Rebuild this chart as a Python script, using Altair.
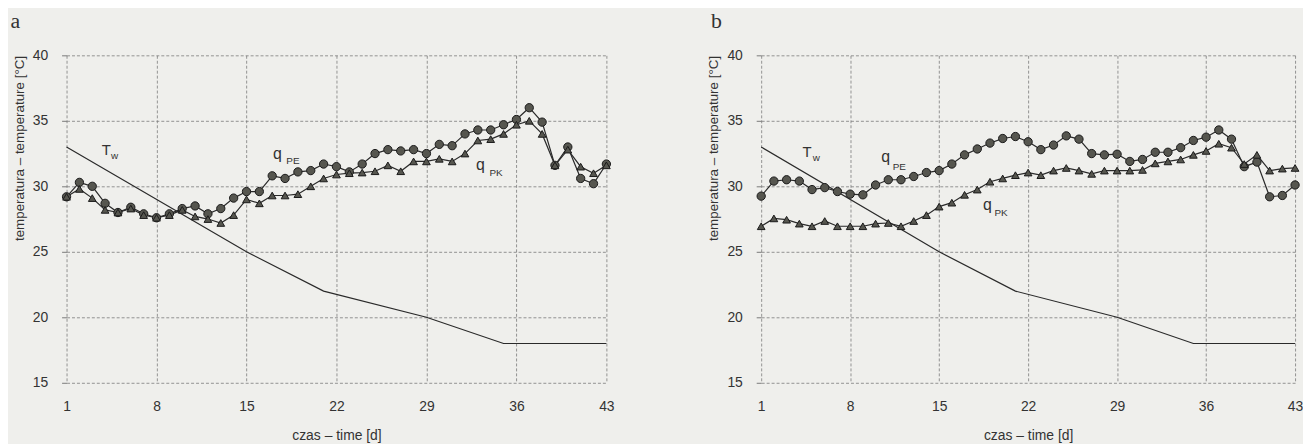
import altair as alt
import pandas as pd

days = list(range(1, 44))
tick_days = [1, 8, 15, 22, 29, 36, 43]
tick_temp = [15, 20, 25, 30, 35, 40]

a_pe = [29.2, 30.3, 30.0, 28.7, 28.0, 28.4, 27.9, 27.6, 27.9, 28.3, 28.5, 27.9, 28.3, 29.1,
        29.6, 29.6, 30.8, 30.6, 31.1, 31.2, 31.7, 31.5, 31.1, 31.7, 32.5, 32.8, 32.7, 32.8,
        32.5, 33.2, 33.1, 34.0, 34.3, 34.3, 34.7, 35.1, 36.0, 34.9, 31.6, 33.0, 30.6, 30.2, 31.7]
a_pk = [29.2, 29.8, 29.1, 28.2, 28.0, 28.3, 27.8, 27.6, 27.8, 28.2, 27.7, 27.5, 27.2, 27.8,
        29.0, 28.7, 29.3, 29.3, 29.4, 30.0, 30.6, 30.9, 31.0, 31.05, 31.15, 31.6, 31.15, 31.9,
        31.9, 32.1, 31.9, 32.5, 33.5, 33.6, 34.0, 34.7, 35.0, 34.0, 31.6, 32.8, 31.5, 31.0, 31.6]
b_pe = [29.25, 30.4, 30.5, 30.4, 29.75, 29.9, 29.6, 29.4, 29.35, 30.1, 30.5, 30.5, 30.75, 31.05,
        31.2, 31.7, 32.4, 32.85, 33.3, 33.65, 33.8, 33.4, 32.8, 33.15, 33.85, 33.6, 32.5, 32.4,
        32.45, 31.9, 32.05, 32.6, 32.6, 32.95, 33.5, 33.75, 34.3, 33.6, 31.5, 31.85, 29.2, 29.3, 30.1]
b_pk = [26.95, 27.55, 27.45, 27.15, 26.95, 27.35, 26.95, 26.95, 26.95, 27.15, 27.2, 26.95, 27.35, 27.8,
        28.45, 28.75, 29.35, 29.75, 30.35, 30.6, 30.85, 31.05, 30.85, 31.2, 31.4, 31.2, 30.95, 31.2,
        31.2, 31.2, 31.25, 31.75, 31.9, 32.05, 32.4, 32.7, 33.25, 32.95, 31.7, 32.4, 31.2, 31.35, 31.4]

tw_days = [1, 15, 21, 29, 35, 43]
tw_vals = [33, 25, 22, 20, 18, 18]

# main letters (centred) and subscripts (left-aligned)
main_text = ["T", "q", "q"]
main_size = [15, 16, 16]
sub_text = ["w", "PE", "PK"]
sub_size = [10, 10, 10]
a_main_x = [4.1, 17.4, 33.2]
a_main_y = [32.8, 32.5, 31.6]
a_sub_x = [4.45, 18.1, 33.9]
a_sub_y = [32.35, 31.9, 31.05]
b_main_x = [4.6, 10.8, 18.8]
b_main_y = [32.65, 32.2, 28.55]
b_sub_x = [5.05, 11.35, 19.35]
b_sub_y = [32.15, 31.5, 27.95]

BG = "#efefec"
INK = "#2a2a2a"
FILL = "#56564f"


def panel(pe, pk, mx, my, sx, sy, letter, dx, w):
    df = pd.DataFrame({"day": days, "pe": pe, "pk": pk})
    tw = pd.DataFrame({"day": tw_days, "tw": tw_vals})
    mains = pd.DataFrame({"day": mx, "t": my, "text": main_text, "size": main_size})
    subs = pd.DataFrame({"day": sx, "t": sy, "text": sub_text, "size": sub_size})

    x = alt.X("day:Q", scale=alt.Scale(domain=[1, 43], nice=False, zero=False),
              axis=alt.Axis(values=tick_days, title="czas – time [d]", ticks=False,
                            labelFlush=False, labelPadding=17, titlePadding=15))
    yax = alt.Axis(values=tick_temp, title="temperatura – temperature [°C]",
                   tickSize=5, labelPadding=14, titlePadding=6,
                   titleAnchor="end", titleFontSize=13.5)

    def y(field):
        return alt.Y(field, scale=alt.Scale(domain=[15, 40], nice=False, zero=False), axis=yax)

    base = alt.Chart(df)
    tw_line = alt.Chart(tw).mark_line(color=INK, strokeWidth=1.2).encode(x=x, y=y("tw:Q"))
    pe_line = base.mark_line(color=INK, strokeWidth=1.2).encode(x=x, y=y("pe:Q"))
    pk_line = base.mark_line(color=INK, strokeWidth=1.2).encode(x=x, y=y("pk:Q"))
    pe_pts = base.mark_point(shape="circle", filled=True, size=70, fill=FILL, stroke="#1a1a1a",
                             strokeWidth=1, opacity=1).encode(x=x, y=y("pe:Q"))
    pk_pts = base.mark_point(shape="triangle-up", filled=True, size=60, fill=FILL, stroke="#1a1a1a",
                             strokeWidth=1, opacity=1).encode(x=x, y=y("pk:Q"))
    main_lab = alt.Chart(mains).mark_text(font="Liberation Sans", color="#333", align="center",
                                          baseline="middle").encode(
        x=x, y=y("t:Q"), text="text:N", size=alt.Size("size:Q", scale=None, legend=None))
    sub_lab = alt.Chart(subs).mark_text(font="Liberation Sans", color="#333", align="left",
                                        baseline="middle").encode(
        x=x, y=y("t:Q"), text="text:N", size=alt.Size("size:Q", scale=None, legend=None))

    return alt.layer(tw_line, pe_line, pk_line, pe_pts, pk_pts, main_lab, sub_lab).properties(
        width=w, height=330,
        title=alt.TitleParams(letter, anchor="start", frame="bounds", font="Liberation Serif",
                              fontSize=22, fontWeight="normal", color="#333", offset=16, dx=dx))


chart = alt.hconcat(
    panel(a_pe, a_pk, a_main_x, a_main_y, a_sub_x, a_sub_y, "a", -2, 544),
    panel(b_pe, b_pk, b_main_x, b_main_y, b_sub_x, b_sub_y, "b", 4, 538),
    spacing=93,
).properties(
    background=BG,
    padding={"left": 2, "top": 0, "right": 0, "bottom": 0},
).configure_axis(
    labelFont="Liberation Sans", labelFontSize=14, labelColor="#333",
    titleFont="Liberation Sans", titleFontSize=14, titleFontWeight="normal", titleColor="#333",
    grid=True, gridColor="#7a7a7a", gridDash=[3, 2], gridWidth=0.8,
    domain=False, tickColor="#7a7a7a",
).configure_view(stroke=None)

chart.save("out.html", embed_options={"renderer": "svg", "actions": False})
